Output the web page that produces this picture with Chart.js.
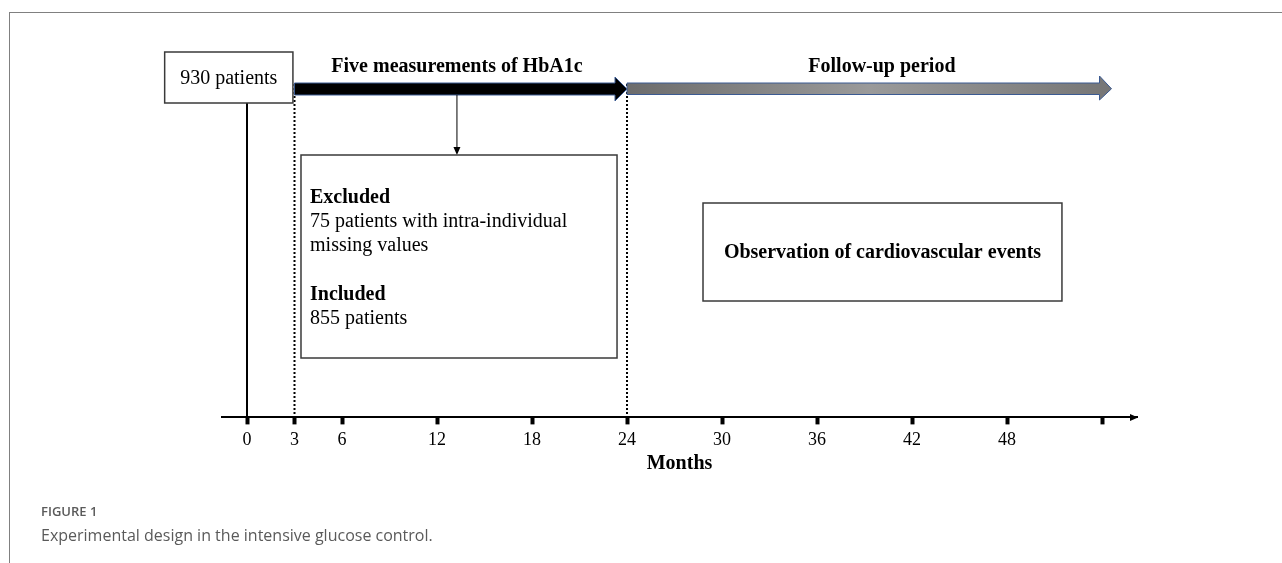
<!DOCTYPE html>
<html>
<head>
<meta charset="utf-8">
<script src="https://cdn.jsdelivr.net/npm/chart.js@4.4.1/dist/chart.umd.min.js"></script>
<style>
  body { margin: 0; background: #fff; }
  #wrap { position: relative; width: 1282px; height: 563px; overflow: hidden; }
  #frame { position: absolute; left: 9px; top: 12px; right: -2px; bottom: -2px;
           border-top: 1.5px solid #808080; border-left: 1.5px solid #808080; }
  .cap { position: absolute; left: 41px; font-family: "Open Sans", sans-serif; color: #5a5a5a; }
  #capHead { top: 502px; font-size: 13px; font-weight: 600; }
  #capText { top: 524px; font-size: 16px; }
</style>
</head>
<body>
<div id="wrap">
  <div id="frame"></div>
  <canvas id="timeline"></canvas>
  <div class="cap" id="capHead">FIGURE 1</div>
  <div class="cap" id="capText">Experimental design in the intensive glucose control.</div>
</div>
<script>
/* study timeline (months) */
const tickMonths = [0, 3, 6, 12, 18, 24, 30, 36, 42, 48, 54];
const tickLabels = ['0', '3', '6', '12', '18', '24', '30', '36', '42', '48', ''];

const phaseStart = [3, 24];
const phaseEnd = [24, 54.6];
const phaseLabels = ['Five measurements of HbA1c', 'Follow-up period'];

const enrolMonth = 0;
const enrolLabel = '930 patients';
const cutMonths = [3, 24];   // dotted markers

const excludedHead = 'Excluded';
const excludedLines = ['75 patients with intra-individual', 'missing values'];
const includedHead = 'Included';
const includedLines = ['855 patients'];
const observeLabel = 'Observation of cardiovascular events';

const SERIF = '"Liberation Serif", "Times New Roman", serif';

// drawing of boxes / arrows on top of the month axis
const timelinePlugin = {
  id: 'timeline',
  afterDraw(chart) {
    const ctx = chart.ctx;
    const x = chart.scales.x;
    const axisY = chart.chartArea.bottom;
    const px = m => x.getPixelForValue(m);

    ctx.save();

    // axis arrow head
    const xr = x.right;
    ctx.fillStyle = '#000';
    ctx.beginPath();
    ctx.moveTo(xr + 1, axisY);
    ctx.lineTo(xr - 7, axisY - 3.5);
    ctx.lineTo(xr - 7, axisY + 3.5);
    ctx.closePath();
    ctx.fill();

    // solid line from enrolment
    ctx.strokeStyle = '#000';
    ctx.lineWidth = 2;
    ctx.beginPath();
    ctx.moveTo(px(enrolMonth), 103);
    ctx.lineTo(px(enrolMonth), axisY);
    ctx.stroke();

    // dotted markers
    ctx.setLineDash([2, 2]);
    cutMonths.forEach(m => {
      ctx.beginPath();
      ctx.moveTo(px(m), 84);
      ctx.lineTo(px(m), axisY);
      ctx.stroke();
    });
    ctx.setLineDash([]);

    // boxes
    const box = (l, t, r, b) => {
      ctx.fillStyle = '#fff';
      ctx.fillRect(l, t, r - l, b - t);
      ctx.strokeStyle = '#3a3a3a';
      ctx.lineWidth = 1.5;
      ctx.strokeRect(l, t, r - l, b - t);
    };

    // enrolment box
    box(px(-5.2), 52, px(2.9), 103);
    ctx.fillStyle = '#000';
    ctx.font = '20px ' + SERIF;
    ctx.textAlign = 'center';
    ctx.textBaseline = 'middle';
    ctx.fillText(enrolLabel, (px(-5.2) + px(2.9)) / 2, 79);

    // phase arrows
    const arrow = (x0, x1, top, bot, headTop, headBot, fill) => {
      const head = 12;
      ctx.beginPath();
      ctx.moveTo(x0, top);
      ctx.lineTo(x1 - head, top);
      ctx.lineTo(x1 - head, headTop);
      ctx.lineTo(x1, (top + bot) / 2);
      ctx.lineTo(x1 - head, headBot);
      ctx.lineTo(x1 - head, bot);
      ctx.lineTo(x0, bot);
      ctx.closePath();
      ctx.fillStyle = fill;
      ctx.fill();
      ctx.strokeStyle = '#3b5a92';
      ctx.lineWidth = 1;
      ctx.stroke();
    };
    const g0 = px(phaseStart[1]), g1 = px(phaseEnd[1]);
    const grad = ctx.createLinearGradient(g0, 0, g1, 0);
    grad.addColorStop(0, '#6c6c6c');
    grad.addColorStop(0.5, '#9a9a9a');
    grad.addColorStop(1, '#767676');
    arrow(g0, g1, 83, 94.5, 76, 100, grad);
    arrow(px(phaseStart[0]), px(phaseEnd[0]), 83, 95, 77, 101, '#000');

    ctx.fillStyle = '#000';
    ctx.font = 'bold 20px ' + SERIF;
    ctx.fillText(phaseLabels[0], px(13.26), 67);
    ctx.fillText(phaseLabels[1], px(40.1), 67);

    // down arrow into exclusion box
    const ax = px(13.26);
    ctx.strokeStyle = '#000';
    ctx.lineWidth = 1;
    ctx.beginPath();
    ctx.moveTo(ax, 95);
    ctx.lineTo(ax, 148);
    ctx.stroke();
    ctx.beginPath();
    ctx.moveTo(ax, 155);
    ctx.lineTo(ax - 3.5, 147);
    ctx.lineTo(ax + 3.5, 147);
    ctx.closePath();
    ctx.fill();

    // exclusion box
    box(px(3.41), 155, px(23.37), 358);
    const tx = px(3.98);
    ctx.fillStyle = '#000';
    ctx.textAlign = 'left';
    ctx.font = 'bold 20px ' + SERIF;
    ctx.fillText(excludedHead, tx, 198);
    ctx.font = '20px ' + SERIF;
    excludedLines.forEach((s, i) => ctx.fillText(s, tx, 222 + i * 24));
    ctx.font = 'bold 20px ' + SERIF;
    ctx.fillText(includedHead, tx, 295);
    ctx.font = '20px ' + SERIF;
    includedLines.forEach((s, i) => ctx.fillText(s, tx, 319 + i * 24));

    // observation box
    box(px(28.8), 203, px(51.47), 301);
    ctx.fillStyle = '#000';
    ctx.textAlign = 'center';
    ctx.font = 'bold 20px ' + SERIF;
    ctx.fillText(observeLabel, (px(28.8) + px(51.47)) / 2, 253);

    ctx.restore();
  }
};

const chart = new Chart(document.getElementById('timeline'), {
  type: 'scatter',
  data: { datasets: [] },
  options: {
    responsive: true,
    maintainAspectRatio: false,
    animation: false,
    events: [],
    layout: { padding: { left: 222, right: 145, top: 12, bottom: 87 } },
    plugins: { legend: { display: false }, tooltip: { enabled: false } },
    scales: {
      x: {
        type: 'linear',
        min: -1.579,
        max: 56.21,
        afterBuildTicks: axis => { axis.ticks = tickMonths.map(v => ({ value: v })); },
        ticks: {
          autoSkip: false,
          maxRotation: 0,
          padding: 5,
          color: '#000',
          font: { family: SERIF, size: 18 },
          callback: v => tickLabels[tickMonths.indexOf(v)]
        },
        grid: { drawOnChartArea: false, drawTicks: true, tickLength: 7, tickWidth: 4, tickColor: '#000' },
        border: { display: true, color: '#000', width: 2 },
        title: {
          display: true,
          text: 'Months',
          color: '#000',
          font: { family: SERIF, size: 20, weight: 'bold' },
          padding: { top: -4, bottom: 0 }
        }
      },
      y: { display: false, min: 0, max: 1 }
    }
  },
  plugins: [timelinePlugin]
});
</script>
</body>
</html>
